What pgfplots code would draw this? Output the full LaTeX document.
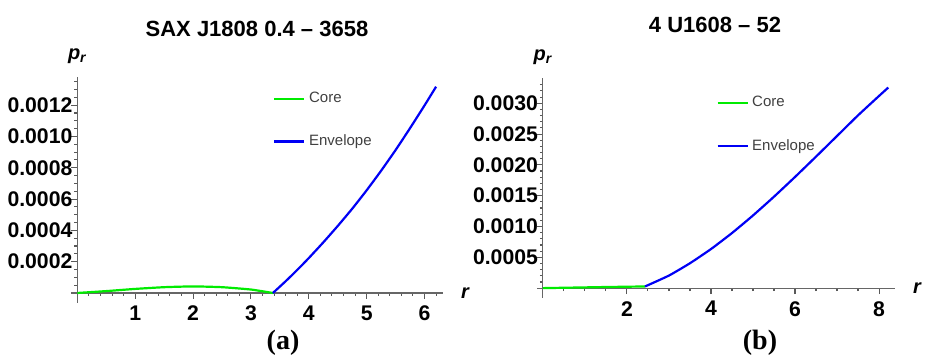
\documentclass[border=0pt]{standalone}
\usepackage{fontspec}
\setmainfont{Liberation Sans}
\newfontfamily\seriffont{Liberation Serif}
\usepackage{pgfplots}
\pgfplotsset{compat=1.18}
\definecolor{mgreen}{RGB}{0,235,0}
\definecolor{mblue}{RGB}{0,0,245}
\pgfplotsset{
  mstyle/.style={
    scale only axis,
    anchor=south west,
    axis lines=middle,
    axis line style={-, draw=black!60, line width=0.55pt},
    every tick/.style={draw=black!65, line width=0.55pt},
    major tick length=3pt,
    minor tick length=1.5pt,
    xtick align=outside,
    ytick align=outside,
    ticklabel style={font=\fontsize{10.6}{12}\selectfont\bfseries, text=black},
    yticklabel style={inner sep=0.8pt, xshift=1.5pt},
    xticklabel style={yshift=0pt},
    /pgf/number format/assume math mode=true,
    scaled y ticks=false,
    scaled x ticks=false,
    clip=false,
    legend style={draw=none, fill=none, anchor=north west, inner sep=0pt,
      font=\fontsize{7.5}{8}\selectfont, text=black!75, row sep=11pt,
      nodes={inner sep=1.8pt}, cells={anchor=west}},
    legend image code/.code={\draw[#1] (0pt,0pt) -- (15pt,0pt);},
    every axis plot/.append style={line width=1.1pt, smooth, tension=0.3},
  }
}
\begin{document}
\begin{tikzpicture}
\useasboundingbox (0,0) rectangle (462.5pt,178pt);
% ---------------- panel (a)
\begin{axis}[mstyle,
  at={(35.5pt,26.5pt)}, width=186pt, height=113pt,
  xmin=-0.11, xmax=6.32, ymin=-0.000064, ymax=0.00138,
  xtick={1,2,3,4,5,6},
  minor xtick={0,0.2,...,6.21},
  ytick={0.0002,0.0004,0.0006,0.0008,0.0010,0.0012},
  yticklabels={0.0002,0.0004,0.0006,0.0008,0.0010,0.0012},
  minor ytick={0,0.00005,0.0001,0.00015,0.00025,0.0003,0.00035,0.00045,0.0005,0.00055,0.00065,0.0007,0.00075,0.00085,0.0009,0.00095,0.00105,0.0011,0.00115,0.00125,0.0013,0.00135},
  ylabel={\bfseries\itshape\fontsize{10}{11}\selectfont p\textsubscript{r}},
  ylabel style={at={(axis cs:0,0.00138)}, anchor=south, yshift=3pt},
  xlabel={\bfseries\itshape\fontsize{10}{11}\selectfont r},
  xlabel style={at={(axis cs:6.32,0)}, anchor=west, xshift=5.5pt},
  legend style={at={(axis cs:3.38,0.00131)}},
]
\addplot[mgreen] coordinates {(0,0) (0.5,0.000012) (1,0.000026) (1.5,0.000037) (2,0.000042) (2.5,0.000037) (3,0.000022) (3.38,0)};
\addlegendentry{Core}
\addplot[mblue] coordinates {(3.38,0) (3.6,0.000075) (3.8,0.000147) (4.0,0.000223) (4.25,0.000323) (4.5,0.000428) (4.75,0.000538) (5.0,0.000656) (5.25,0.000781) (5.5,0.000913) (5.75,0.001053) (6.0,0.001198) (6.2,0.001318)};
\addlegendentry{Envelope}
\end{axis}
% ---------------- panel (b)
\begin{axis}[mstyle,
  at={(268.5pt,29pt)}, width=179pt, height=110pt,
  xmin=-0.14, xmax=8.38, ymin=-0.00016, ymax=0.00341,
  xtick={2,4,6,8},
  minor xtick={0,0.5,...,8.1},
  ytick={0.0005,0.0010,0.0015,0.0020,0.0025,0.0030},
  yticklabels={0.0005,0.0010,0.0015,0.0020,0.0025,0.0030},
  minor ytick={0,0.0001,0.0002,0.0003,0.0004,0.0006,0.0007,0.0008,0.0009,0.0011,0.0012,0.0013,0.0014,0.0016,0.0017,0.0018,0.0019,0.0021,0.0022,0.0023,0.0024,0.0026,0.0027,0.0028,0.0029,0.0031,0.0032,0.0033},
  ylabel={\bfseries\itshape\fontsize{10}{11}\selectfont p\textsubscript{r}},
  ylabel style={at={(axis cs:0,0.00341)}, anchor=south, yshift=3pt},
  xlabel={\bfseries\itshape\fontsize{10}{11}\selectfont r},
  xlabel style={at={(axis cs:8.38,0)}, anchor=west, xshift=5.5pt},
  legend style={at={(axis cs:4.12,0.003175)}},
]
\addplot[mgreen] coordinates {(0,0) (0.5,0.000006) (1,0.000012) (1.5,0.000018) (2,0.000023) (2.43,0.000027)};
\addlegendentry{Core}
\addplot[mblue] coordinates {(2.43,0.000027) (3.0,0.000204) (3.5,0.000404) (4.0,0.000634) (4.5,0.000894) (5.0,0.001179) (5.5,0.001484) (6.0,0.001804) (6.5,0.002134) (7.0,0.002469) (7.5,0.002804) (8.0,0.003119) (8.22,0.003255)};
\addlegendentry{Envelope}
\end{axis}
\node[font=\bfseries\fontsize{11}{13}\selectfont] at (128.5pt,163.5pt) {SAX J1808 0.4 -- 3658};
\node[font=\bfseries\fontsize{11}{13}\selectfont] at (357.5pt,165.5pt) {4 U1608 -- 52};
\node[font=\seriffont\bfseries\fontsize{14}{16}\selectfont] at (141.5pt,6.5pt) {(a)};
\node[font=\seriffont\bfseries\fontsize{14}{16}\selectfont] at (380pt,6.5pt) {(b)};
\end{tikzpicture}
\end{document}
